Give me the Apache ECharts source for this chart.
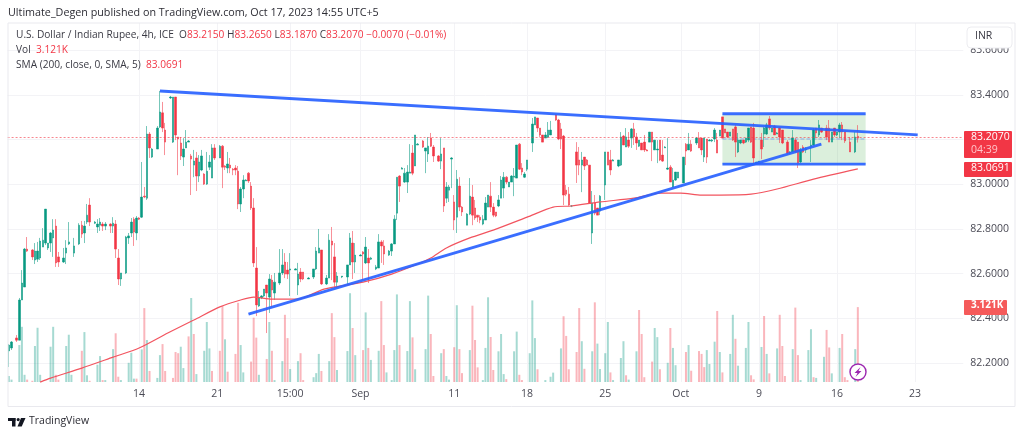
<!DOCTYPE html>
<html><head><meta charset="utf-8">
<style>html,body{margin:0;padding:0;background:#fff}#c{width:1024px;height:437px}</style>
<script src="https://cdn.jsdelivr.net/npm/echarts@6/dist/echarts.min.js"></script>
</head><body><div id="c"></div>
<script>
// candles: [barIndex, open, high, low, close]
const candlesAug1=[[0,82.254,82.285,82.182,82.280],[1,82.267,82.298,82.258,82.294],[3,82.312,82.325,82.294,82.302],[4,82.302,82.491,82.302,82.482],[5,82.482,82.616,82.482,82.558],[6,82.540,82.715,82.540,82.710],[7,82.710,82.764,82.697,82.701],[9,82.706,82.710,82.661,82.675],[10,82.661,82.737,82.643,82.701],[11,82.665,82.742,82.652,82.701],[12,82.670,82.760,82.661,82.746],[13,82.719,82.804,82.719,82.750],[14,82.737,82.889,82.728,82.889],[15,82.715,82.737,82.706,82.737],[16,82.737,82.786,82.697,82.782],[17,82.760,82.844,82.675,82.795],[18,82.813,82.844,82.630,82.648],[19,82.675,82.697,82.630,82.652],[21,82.652,82.715,82.648,82.670],[22,82.692,82.750,82.643,82.715],[23,82.733,82.831,82.728,82.742],[25,82.692,82.760,82.675,82.724],[27,82.733,82.826,82.728,82.817],[28,82.817,82.836,82.760,82.777],[29,82.782,82.836,82.737,82.813],[30,82.831,82.912,82.822,82.862],[31,82.907,82.938,82.813,82.831]];
const candlesAug2=[[33,82.826,82.836,82.822,82.831],[34,82.809,82.844,82.782,82.822],[35,82.817,82.849,82.791,82.831],[36,82.822,82.831,82.791,82.813],[37,82.813,82.831,82.795,82.822],[39,82.822,82.826,82.782,82.813],[40,82.813,82.853,82.782,82.826],[41,82.822,82.840,82.670,82.710],[42,82.670,82.710,82.549,82.576],[43,82.576,82.603,82.545,82.603],[45,82.603,82.769,82.598,82.764],[46,82.760,82.782,82.733,82.769],[47,82.782,82.849,82.764,82.831],[48,82.844,82.853,82.724,82.786],[49,82.782,82.858,82.750,82.849],[50,82.849,82.853,82.840,82.844],[51,82.853,83.100,82.849,82.943],[52,82.947,82.988,82.938,82.943],[53,82.938,83.261,82.930,83.225],[54,83.225,83.234,83.118,83.163],[55,83.122,83.163,83.118,83.158],[57,83.158,83.261,83.158,83.252],[58,83.257,83.418,83.252,83.324],[59,83.320,83.369,83.234,83.252],[60,83.243,83.275,83.131,83.189]];
const candlesAug3=[[62,83.387,83.396,83.382,83.391],[63,83.189,83.391,83.185,83.391],[64,83.391,83.391,83.198,83.221],[65,83.212,83.212,83.041,83.203],[66,83.185,83.212,83.109,83.127],[67,83.122,83.207,83.082,83.158],[68,83.163,83.243,83.163,83.189],[69,83.189,83.198,83.189,83.194],[70,83.127,83.136,82.952,83.113],[71,83.086,83.154,83.032,83.104],[72,83.118,83.145,82.970,83.037],[73,83.037,83.131,83.010,83.100],[74,83.064,83.154,83.059,83.127],[75,83.046,83.050,82.997,83.001],[76,83.001,83.145,82.997,83.059],[77,83.077,83.131,83.064,83.100],[78,83.028,83.180,83.028,83.163],[79,83.163,83.180,83.109,83.118],[81,83.118,83.176,83.118,83.171],[82,83.171,83.176,82.983,83.077],[83,83.082,83.086,83.064,83.077],[84,83.073,83.145,83.050,83.091],[85,83.086,83.118,83.050,83.073],[86,83.068,83.073,83.041,83.064],[87,83.073,83.086,83.041,83.064],[88,83.059,83.082,82.889,82.912],[89,82.912,82.988,82.876,82.979],[90,82.979,83.041,82.938,83.019]];
const candlesAug4=[[91,83.015,83.023,83.015,83.019],[92,83.050,83.055,83.006,83.015],[93,82.992,83.010,82.885,82.894],[94,82.894,82.938,82.630,82.648],[95,82.625,82.719,82.410,82.460],[96,82.455,82.522,82.451,82.491],[97,82.491,82.504,82.486,82.500],[98,82.500,82.531,82.495,82.531],[99,82.549,82.549,82.334,82.513],[100,82.495,82.598,82.424,82.576],[101,82.571,82.594,82.451,82.527],[102,82.513,82.603,82.482,82.562],[104,82.558,82.710,82.549,82.603],[105,82.603,82.710,82.594,82.639],[106,82.652,82.692,82.580,82.598],[107,82.616,82.652,82.576,82.598],[108,82.616,82.692,82.500,82.621],[110,82.616,82.625,82.616,82.621],[111,82.549,82.648,82.504,82.598],[112,82.607,82.625,82.562,82.576],[113,82.607,82.607,82.571,82.576],[115,82.576,82.585,82.576,82.580],[117,82.585,82.621,82.576,82.621],[118,82.621,82.719,82.616,82.701],[119,82.692,82.800,82.692,82.715]];
const candlesSep1=[[120,82.706,82.706,82.549,82.554],[122,82.554,82.594,82.549,82.580],[123,82.580,82.777,82.580,82.750],[124,82.746,82.809,82.571,82.728],[125,82.675,82.737,82.536,82.562],[126,82.562,82.607,82.536,82.589],[128,82.585,82.589,82.580,82.589],[130,82.585,82.639,82.549,82.639],[131,82.639,82.782,82.639,82.760],[132,82.737,82.791,82.576,82.652],[133,82.652,82.737,82.603,82.683],[135,82.679,82.688,82.679,82.683],[136,82.697,82.701,82.571,82.688],[137,82.648,82.764,82.643,82.719],[138,82.670,82.710,82.558,82.648],[139,82.665,82.675,82.661,82.670],[141,82.621,82.639,82.616,82.630],[142,82.625,82.777,82.625,82.742],[143,82.742,82.750,82.648,82.724],[144,82.724,82.750,82.639,82.688],[146,82.683,82.706,82.679,82.701],[147,82.701,82.737,82.679,82.733],[148,82.733,82.862,82.733,82.844],[149,82.871,83.032,82.840,83.032]];
const candlesSep2=[[150,83.037,83.041,82.921,82.992],[151,83.068,83.077,83.068,83.073],[152,83.010,83.073,83.006,83.050],[153,83.010,83.086,82.961,83.055],[154,83.050,83.180,83.050,83.055],[155,83.140,83.176,83.041,83.050],[156,83.082,83.221,83.082,83.221],[157,83.176,83.185,83.176,83.180],[159,83.194,83.198,83.163,83.167],[160,83.149,83.163,83.050,83.163],[161,83.136,83.212,83.100,83.171],[162,83.207,83.230,83.167,83.171],[163,83.167,83.176,83.100,83.127],[165,83.127,83.131,83.100,83.104],[166,83.104,83.207,83.068,83.136],[167,83.163,83.163,82.876,82.903],[168,82.938,83.010,82.916,82.988],[169,82.974,82.997,82.921,82.988],[170,83.113,83.122,82.983,83.118],[171,82.921,82.952,82.795,82.840],[172,82.853,83.064,82.782,83.023],[173,82.992,83.032,82.880,82.898],[174,82.898,82.903,82.858,82.876],[176,82.817,82.871,82.817,82.867],[177,82.867,83.028,82.862,82.947],[178,82.943,82.997,82.817,82.862],[179,82.894,82.930,82.840,82.849]];
const candlesSep3=[[180,82.862,82.862,82.831,82.853],[181,82.853,82.862,82.826,82.840],[182,82.822,82.862,82.817,82.844],[183,82.840,82.943,82.840,82.916],[184,82.898,82.952,82.898,82.952],[185,82.947,83.010,82.876,82.898],[186,82.898,82.916,82.853,82.862],[187,82.876,82.876,82.853,82.858],[188,82.903,82.952,82.898,82.930],[189,82.938,83.037,82.938,83.019],[190,82.983,83.055,82.938,83.032],[191,83.032,83.037,83.001,83.010],[192,82.988,83.010,82.988,83.010],[193,83.010,83.041,83.010,83.037],[194,83.032,83.073,82.947,83.037],[195,83.028,83.176,83.028,83.176],[196,83.180,83.185,83.064,83.068],[197,83.073,83.095,83.041,83.055],[198,83.032,83.055,83.028,83.046],[199,83.068,83.109,83.059,83.109],[201,83.185,83.297,83.145,83.270],[202,83.266,83.302,83.266,83.302],[203,83.297,83.297,83.234,83.252],[204,83.252,83.252,83.212,83.221],[205,83.221,83.221,83.189,83.189],[206,83.207,83.234,83.207,83.221],[207,83.212,83.279,83.207,83.243],[208,83.221,83.284,83.221,83.243]];
const candlesSep4=[[210,83.311,83.315,83.284,83.288],[211,83.288,83.293,83.198,83.203],[212,83.248,83.275,83.158,83.203],[213,83.216,83.221,82.907,82.952],[214,82.974,82.997,82.947,82.956],[215,82.956,82.988,82.903,82.907],[216,82.903,82.907,82.898,82.903],[218,83.145,83.189,83.006,83.086],[219,83.109,83.167,83.041,83.086],[220,83.086,83.145,82.965,83.109],[221,83.122,83.122,83.064,83.082],[222,83.109,83.113,83.086,83.086],[223,83.086,83.086,82.916,82.916],[224,82.782,82.970,82.733,82.916],[225,82.916,82.952,82.862,82.871],[226,82.894,82.894,82.862,82.862],[227,82.880,82.952,82.862,82.947],[229,82.997,83.145,82.930,83.145],[230,83.145,83.145,83.086,83.086],[231,83.109,83.154,83.041,83.064],[232,83.104,83.113,83.104,83.109],[234,83.082,83.109,83.077,83.109],[235,83.086,83.234,83.082,83.212],[236,83.216,83.221,83.176,83.176],[237,83.167,83.252,83.167,83.212],[238,83.198,83.234,83.163,83.171],[239,83.207,83.252,83.163,83.248]];
const candlesOct1=[[240,83.248,83.275,83.176,83.212],[241,83.212,83.230,83.154,83.185],[242,83.171,83.198,83.167,83.198],[243,83.185,83.185,83.154,83.154],[244,83.189,83.221,83.145,83.154],[245,83.154,83.158,83.149,83.149],[246,83.189,83.234,83.189,83.234],[247,83.234,83.234,83.104,83.189],[248,83.154,83.198,83.154,83.198],[249,83.154,83.198,83.095,83.158],[250,83.198,83.198,83.104,83.109],[251,83.131,83.198,83.100,83.104],[252,83.163,83.171,83.163,83.167],[253,83.068,83.207,83.064,83.073],[254,83.077,83.086,83.010,83.010],[255,82.988,83.073,82.988,83.019],[256,83.019,83.055,83.015,83.055],[257,83.028,83.055,83.028,83.055],[259,83.006,83.122,83.006,83.122],[260,83.180,83.185,83.086,83.149],[261,83.154,83.230,83.154,83.180],[262,83.180,83.198,83.145,83.149],[264,83.185,83.212,83.176,83.207],[265,83.207,83.234,83.163,83.163],[266,83.207,83.207,83.131,83.154],[267,83.122,83.207,83.100,83.207],[268,83.203,83.203,83.095,83.122],[269,83.194,83.203,83.194,83.198]];
const candlesOct2=[[270,83.194,83.203,83.189,83.198],[271,83.203,83.252,83.189,83.243],[272,83.198,83.230,83.140,83.140],[273,83.216,83.243,83.216,83.243],[274,83.302,83.302,83.207,83.207],[275,83.248,83.248,83.230,83.230],[276,83.234,83.234,83.207,83.212],[277,83.216,83.234,83.216,83.234],[278,83.248,83.248,83.194,83.198],[279,83.257,83.266,83.122,83.189],[280,83.145,83.230,83.140,83.198],[281,83.185,83.198,83.180,83.198],[282,83.198,83.198,83.180,83.185],[283,83.189,83.207,83.185,83.207],[284,83.198,83.252,83.189,83.252],[285,83.257,83.257,83.185,83.189],[286,83.252,83.275,83.095,83.118],[287,83.095,83.100,83.095,83.100],[288,83.100,83.104,83.100,83.104],[289,83.198,83.230,83.113,83.158],[290,83.225,83.257,83.167,83.252],[291,83.225,83.275,83.221,83.266],[292,83.293,83.306,83.243,83.252],[293,83.234,83.252,83.234,83.252],[294,83.261,83.266,83.221,83.221],[295,83.225,83.234,83.225,83.230],[296,83.252,83.257,83.185,83.212],[297,83.243,83.243,83.180,83.185]];
const candlesOct3=[[299,83.189,83.198,83.131,83.140],[300,83.140,83.149,83.136,83.145],[301,83.145,83.243,83.145,83.207],[302,83.198,83.207,83.140,83.145],[303,83.189,83.189,83.073,83.095],[304,83.100,83.163,83.095,83.154],[305,83.167,83.176,83.140,83.145],[306,83.154,83.167,83.140,83.158],[308,83.167,83.198,83.100,83.176],[309,83.176,83.252,83.176,83.243],[310,83.252,83.252,83.207,83.230],[311,83.221,83.288,83.212,83.266],[312,83.252,83.252,83.230,83.234],[314,83.252,83.266,83.198,83.212],[315,83.252,83.288,83.189,83.189],[316,83.189,83.234,83.189,83.234],[317,83.252,83.252,83.212,83.221],[318,83.221,83.234,83.216,83.234],[319,83.234,83.275,83.207,83.266],[320,83.266,83.279,83.198,83.234],[321,83.234,83.234,83.185,83.194],[323,83.189,83.212,83.145,83.145],[325,83.145,83.234,83.140,83.212],[326,83.215,83.265,83.187,83.207]];
// volume, thousands: [barIndex, value]
const volumeUp=[[0,.25],[1,.1],[4,1.54],[5,2.3],[6,.3],[10,1.5],[11,2.26],[12,.3],[16,1.47],[17,2.3],[22,1.5],[23,1.97],[24,.3],[29,2.08],[30,.28],[34,.72],[35,1.08],[37,.08],[40,1.37],[43,.08],[46,.8],[47,1.22],[48,.14],[51,1.36],[53,1.75],[57,.17],[58,1.12],[66,1.47],[67,.58],[70,3.5],[72,.33],[75,1.3],[76,2.5],[77,1.4],[83,1.78],[89,1.54],[90,.4],[96,.3],[100,2.5],[102,.08],[105,.87],[108,.54],[111,.87],[117,.2],[118,.37],[119,1.17],[123,.87],[126,.5],[130,1.29],[131,3.7],[133,1.12],[137,2.9],[139,.92],[142,1.3],[145,.4],[147,.08],[148,1.33],[149,3.65],[153,1.29],[154,3.37],[156,.53],[160,1.37],[161,3.6],[166,1.2],[168,.25],[169,.1],[172,3.2],[177,1.33],[182,.08],[183,1.42],[184,3.53],[188,1.28],[189,2],[190,.33],[194,1.28],[195,2.1],[200,1.2],[201,3.4],[202,1.83],[206,.08],[208,.22],[209,.39],[212,1.4],[220,1.7],[224,1.28],[226,1.6],[227,.54],[229,1.2],[230,2.5],[232,.08],[235,1],[236,1.7],[238,.1],[241,1.28],[248,2.25],[249,1.87],[253,.8],[255,1.42],[256,.7],[261,1.54],[268,1.33],[269,.75],[271,1.68],[273,1.25],[277,1.17],[278,2.8],[280,.68],[283,1.42],[284,2.5],[289,1.46],[291,1.17],[295,1.4],[301,1.37],[304,.08],[307,1.33],[308,2.2],[310,.17],[313,1.05],[316,.36],[319,1.42],[325,1.37]];
const volumeDown=[[7,.1],[9,.05],[18,.3],[19,.1],[28,1.3],[31,.05],[36,.08],[41,2.03],[42,.22],[49,.14],[52,3.08],[54,.46],[59,1.58],[60,.46],[63,.17],[64,1.25],[65,1.2],[69,1.9],[71,2],[78,.46],[81,1.3],[82,3.17],[84,.43],[87,1.17],[88,3.3],[93,.85],[94,2.68],[95,1.85],[99,.96],[101,1.3],[106,2.8],[107,1.83],[112,1.2],[113,.08],[120,.46],[124,2.87],[125,1.87],[132,2.25],[136,1.33],[138,1.42],[143,3.37],[144,1.54],[150,1.54],[155,1.86],[162,2],[163,.25],[167,1.37],[171,1.45],[173,1.37],[174,.37],[178,3.18],[179,1.75],[180,.61],[185,1.875],[186,.5],[191,.12],[196,.3],[197,.08],[203,.53],[213,2.74],[214,1.92],[215,.53],[218,1.25],[219,3.08],[221,.55],[225,3.32],[231,.4],[237,.28],[242,3],[243,2],[244,.2],[247,.85],[250,.53],[254,2.25],[260,1.25],[262,.47],[265,1.29],[266,1.17],[267,.62],[272,2.96],[274,.4],[279,1.8],[285,.28],[286,.11],[290,2.75],[292,.36],[296,2.8],[297,1.5],[298,.25],[302,3.1],[303,1.12],[309,.2],[314,2.17],[315,1.44],[320,2],[321,.2],[322,.08],[326,3.121]];
// SMA 200: [barIndex, value]
const smaLine=[[12,82.114],[16,82.132],[28,82.177],[40,82.226],[50,82.267],[61,82.334],[71,82.392],[81,82.451],[89,82.482],[94,82.495],[101,82.486],[111,82.486],[121,82.531],[136,82.562],[147,82.598],[157,82.643],[162,82.670],[168,82.715],[177,82.760],[186,82.795],[199,82.853],[209,82.898],[216,82.903],[227,82.921],[240,82.938],[250,82.961],[258,82.961],[266,82.952],[273,82.952],[285,82.956],[295,82.979],[309,83.023],[326,83.069]];
// drawings: [barIndex, price]
const upperTrend=[[58,83.418],[349,83.221]];
const lowerTrend=[[92,82.419],[312,83.180]];
const boxTop=[[274,83.316],[329,83.316]];
const boxBottom=[[274,83.090],[329,83.090]];
const boxMiddle=[[274,83.203],[329,83.203]];
const lastPrice=83.207;
const tickIndex=[50,80,108,135,171,199,229,258,288,318,348];
const tickLabels=['14','21','15:00','Sep','11','18','25','Oct','9','16','23'];
const barCount=367;

const categories=[];
for(let i=0;i<barCount;i++){const k=tickIndex.indexOf(i);categories.push(k>=0?tickLabels[k]:'b'+i);}
const candles=[].concat(candlesAug1,candlesAug2,candlesAug3,candlesAug4,candlesSep1,candlesSep2,candlesSep3,candlesSep4,candlesOct1,candlesOct2,candlesOct3)
  .map(r=>[r[0],r[1],r[4],r[3],r[2]]);
const isTick=i=>tickIndex.indexOf(i)>=0;
const FONT='"Open Sans",sans-serif';
const UP='#089981',DOWN='#f23645',BLUE='#2962ff',GRID='#f3f3f6',INK='#3a3a44';
const lineSeries=(data,extra)=>Object.assign({type:'line',xAxisIndex:0,yAxisIndex:0,data,showSymbol:false,symbol:'none',silent:true,z:6,lineStyle:{color:BLUE,width:2.8,opacity:.92},clip:false},extra||{});
const legendFont='10.15px '+FONT;
const legendRich={k:{fill:INK,font:legendFont},r:{fill:DOWN,font:legendFont}};

const chart=echarts.init(document.getElementById('c'),null,{renderer:'canvas'});
chart.setOption({
  animation:false,backgroundColor:'#fff',
  grid:[{left:7.6,width:955.7,top:5.68,height:401.94},{left:7.6,width:955.7,top:23,height:359}],
  xAxis:[
    {type:'category',gridIndex:0,data:categories,show:false},
    {type:'category',gridIndex:1,data:categories,axisLine:{show:false},axisTick:{show:false},
     axisLabel:{interval:(i)=>isTick(i),color:'#4a4a55',fontSize:10.5,fontFamily:FONT,margin:7,hideOverlap:false},
     splitLine:{show:true,interval:(i)=>isTick(i),alignWithLabel:true,lineStyle:{color:GRID,width:1}}}
  ],
  yAxis:[
    {type:'value',gridIndex:0,position:'right',min:82,max:83.8,interval:0.2,axisLine:{show:false},axisTick:{show:false},
     axisLabel:{color:'#4a4a55',fontSize:10.5,fontFamily:FONT,margin:7,showMinLabel:false,showMaxLabel:false,formatter:v=>v.toFixed(4)},
     splitLine:{show:true,showMinLine:false,showMaxLine:false,lineStyle:{color:GRID,width:1}}},
    {type:'value',gridIndex:1,min:0,max:14.96,show:false,splitLine:{show:false}}
  ],
  series:[
    {type:'bar',xAxisIndex:1,yAxisIndex:1,data:volumeUp,barWidth:2,barGap:'-100%',silent:true,z:1,itemStyle:{color:'rgba(8,153,129,0.36)'}},
    {type:'bar',xAxisIndex:1,yAxisIndex:1,data:volumeDown,barWidth:2,barGap:'-100%',silent:true,z:1,itemStyle:{color:'rgba(242,54,69,0.36)'}},
    lineSeries(boxMiddle,{z:2,lineStyle:{color:BLUE,width:1,type:'dashed',opacity:.45},
      markArea:{silent:true,itemStyle:{color:'rgba(76,175,80,0.2)'},data:[[{coord:[274,83.316]},{coord:[329,83.090]}]]}}),
    {type:'candlestick',xAxisIndex:0,yAxisIndex:0,data:candles,encode:{x:0,y:[1,2,3,4]},barWidth:2,silent:true,z:3,
     itemStyle:{color:UP,color0:DOWN,borderColor:'rgba(8,153,129,0.55)',borderColor0:'rgba(242,54,69,0.55)',borderColorDoji:'rgba(8,153,129,0.55)',borderWidth:1},
     markLine:{silent:true,symbol:'none',label:{show:false},lineStyle:{color:'#f23645',opacity:.6,type:[2,2],width:1},data:[{yAxis:lastPrice}]}},
    lineSeries(smaLine,{z:4,smooth:0.25,lineStyle:{color:'#f2545f',width:1.2}}),
    lineSeries(boxTop),lineSeries(boxBottom),lineSeries(upperTrend),lineSeries(lowerTrend)
  ],
  graphic:{elements:[
    {type:'rect',z:100,shape:{x:8,y:23,width:1007,height:383.5},style:{fill:'none',stroke:'#e9e9ee',lineWidth:1}},
    {type:'text',z:101,left:8,top:7.5,style:{text:'Ultimate_Degen published on TradingView.com, Oct 17, 2023 14:55 UTC+5',fill:'#2c2c34',font:'10.75px '+FONT}},
    {type:'text',z:101,left:16,top:30,style:{
      text:'{k|U.S. Dollar / Indian Rupee, 4h, ICE}  {k|O}{r|83.2150} {k|H}{r|83.2650} {k|L}{r|83.1870} {k|C}{r|83.2070} {r|−0.0070 (−0.01%)}',
      font:legendFont,rich:legendRich}},
    {type:'text',z:101,left:16,top:45,style:{text:'{k|Vol}  {r|3.121K}',font:legendFont,rich:legendRich}},
    {type:'text',z:101,left:16,top:60,style:{text:'{k|SMA (200, close, 0, SMA, 5)}  {r|83.0691}',font:legendFont,rich:legendRich}},
    {type:'rect',z:100,shape:{x:967,y:27,width:45,height:21,r:4},style:{fill:'#fff',stroke:'#ececf0',lineWidth:1}},
    {type:'text',z:101,left:975,top:31,style:{text:'INR',fill:INK,font:'10.5px '+FONT}},
    {type:'rect',z:100,shape:{x:964,y:131,width:48,height:27,r:1},style:{fill:DOWN}},
    {type:'text',z:101,left:971,top:132,style:{text:'83.2070',fill:'#fff',font:'10.5px '+FONT}},
    {type:'text',z:101,left:971,top:145,style:{text:'04:39',fill:'#ffc4c9',font:'10.5px '+FONT}},
    {type:'rect',z:100,shape:{x:964,y:162,width:48,height:15,r:1},style:{fill:DOWN}},
    {type:'text',z:101,left:971,top:162.5,style:{text:'83.0691',fill:'#fff',font:'10.5px '+FONT}},
    {type:'rect',z:100,shape:{x:964,y:300,width:43,height:15,r:1},style:{fill:'#f55a5a'}},
    {type:'text',z:101,left:971,top:300.5,style:{text:'3.121K',fill:'#fff',font:'bold 10px '+FONT}},
    {type:'circle',z:100,shape:{cx:858,cy:372,r:8},style:{fill:'#fff',stroke:'#9c27b0',lineWidth:1.4}},
    {type:'polygon',z:101,shape:{points:[[860.5,367],[854.5,373],[857.5,373],[855.5,377],[861.5,371],[858.5,371]]},style:{fill:'#9c27b0'}},
    {type:'rect',z:101,shape:{x:8,y:418,width:7.5,height:3},style:{fill:'#131722'}},
    {type:'rect',z:101,shape:{x:12,y:418,width:3.5,height:8.5},style:{fill:'#131722'}},
    {type:'circle',z:101,shape:{cx:18.2,cy:419.6,r:1.6},style:{fill:'#131722'}},
    {type:'polygon',z:101,shape:{points:[[21,418],[25.5,418],[21.7,426.5],[17.5,426.5]]},style:{fill:'#131722'}},
    {type:'text',z:101,left:29,top:416,style:{text:'TradingView',fill:'#2c2c34',font:'10.5px '+FONT}}
  ]}
});
</script></body></html>
